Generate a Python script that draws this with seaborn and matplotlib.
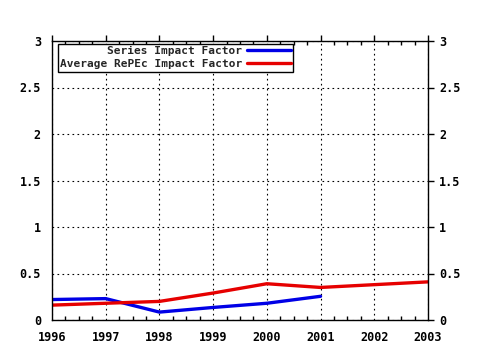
import numpy as np
import pandas as pd
import matplotlib
matplotlib.use("Agg")
import matplotlib.pyplot as plt
import seaborn as sns
from matplotlib.ticker import MultipleLocator

years = [1996, 1997, 1998, 1999, 2000, 2001, 2002, 2003]
series_years = [1996, 1997, 1998, 1999, 2000, 2001]
series_if = [0.22, 0.23, 0.085, 0.135, 0.18, 0.255]
average_if = [0.16, 0.18, 0.20, 0.29, 0.39, 0.35, 0.38, 0.41]
labels = ["Series Impact Factor", "Average RePEc Impact Factor"]
colors = ["#0000e6", "#e60000"]

df = pd.concat([
    pd.DataFrame({"year": series_years, "value": series_if, "name": labels[0]}),
    pd.DataFrame({"year": years, "value": average_if, "name": labels[1]}),
])

sns.set_theme(style="white")
plt.rcParams["font.family"] = ["DejaVu Sans Mono"]
plt.rcParams["font.weight"] = "bold"

fig = plt.figure(figsize=(4.8, 3.5), dpi=100)
ax = fig.add_axes([52 / 480, 30 / 350, 376 / 480, 279 / 350])

sns.lineplot(data=df, x="year", y="value", hue="name", palette=colors,
             hue_order=labels, linewidth=2.4, ax=ax, legend=True)

ax.set_xlim(1996, 2003)
ax.set_ylim(0, 3)
ax.set_xticks(years)
ax.set_xticklabels([str(y) for y in years])
ax.set_yticks([0, 0.5, 1, 1.5, 2, 2.5, 3])
ax.set_yticklabels(["0", "0.5", "1", "1.5", "2", "2.5", "3"])
ax.xaxis.set_minor_locator(MultipleLocator(0.25))
ax.set_xlabel("")
ax.set_ylabel("")

ax.grid(True, which="major", color="black", linestyle=(0, (1.5, 3)), linewidth=0.8)
for s in ax.spines.values():
    s.set_color("black")
    s.set_linewidth(1.0)

ax.tick_params(axis="both", which="major", direction="out", length=4, width=1,
               color="black", labelsize=8.5, labelcolor="black", pad=4)
ax.tick_params(axis="x", which="minor", direction="in", length=3, width=1,
               color="black", top=True, bottom=True)
ax.tick_params(axis="x", top=True)
ax.tick_params(axis="y", right=True, labelright=True)
for t in ax.get_xticklabels() + ax.get_yticklabels():
    t.set_fontweight("bold")

leg = ax.legend(loc="upper left", bbox_to_anchor=(0.016, 0.99), borderaxespad=0,
                markerfirst=False, alignment="right", fancybox=False,
                frameon=True, edgecolor="black", framealpha=1,
                fontsize=8.0, handlelength=3.9, handletextpad=0.45,
                borderpad=0.2, labelspacing=0.3)
leg.get_frame().set_linewidth(1.0)
for t in leg.get_texts():
    t.set_fontweight("bold")

fig.savefig("out.png", dpi=100)
